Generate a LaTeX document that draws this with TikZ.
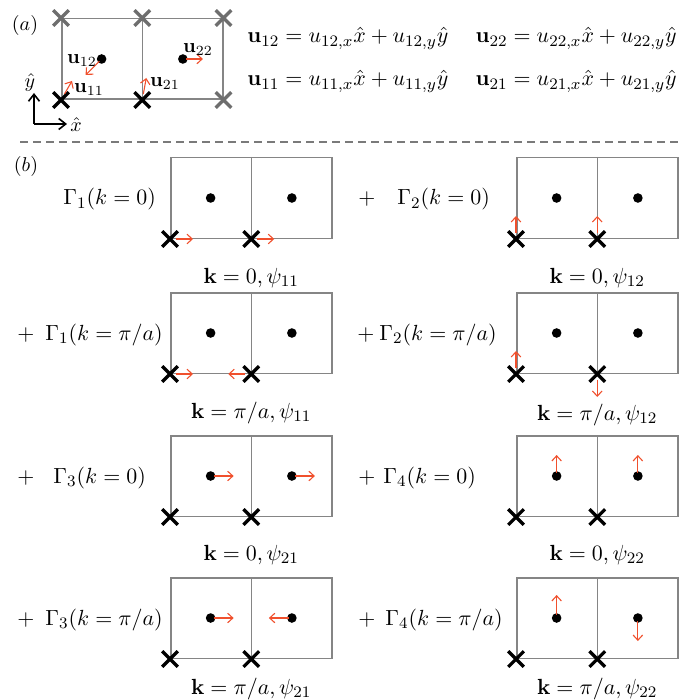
\documentclass[tikz,border=0pt]{standalone}
\usepackage{amsmath}
\usepackage{tikz}
\usetikzlibrary{arrows.meta,calc,positioning,shapes.misc}
\definecolor{boxEdge}{HTML}{858585}
\definecolor{xGray}{HTML}{6E6E6E}
\definecolor{dispCol}{HTML}{F0502D}
\definecolor{sepCol}{HTML}{7A7A7A}
\tikzset{
  cellbox/.style={draw=boxEdge, line width=0.75pt, minimum width=80.5pt, minimum height=40.25pt, inner sep=0pt},
  wall/.style={draw=boxEdge, line width=0.75pt},
  dot/.style={circle, fill=black, inner sep=0pt, minimum size=4.8pt},
  xmark/.style={cross out, draw=black, line width=1.6pt, minimum size=6.2pt, inner sep=0pt},
  xmarkg/.style={xmark, draw=xGray},
  disp/.style={-{Straight Barb[length=2.6pt,width=4.8pt]}, dispCol, line width=0.55pt, shorten <=-1pt},
  axis/.style={-{Straight Barb[length=3.5pt,width=5.5pt]}, line width=0.8pt},
  lbl/.style={inner sep=0pt, font=\fontsize{11}{13}\selectfont},
  eqn/.style={inner sep=0pt, font=\fontsize{10.8}{13}\selectfont},
  tag/.style={inner sep=0pt, font=\normalsize},
}
% two unit cells: #1 prefix, (#2,#3) top-left corner
\newcommand{\cellpair}[3]{%
  \node[cellbox, anchor=north west] (#1B) at (#2,#3) {};
  \draw[wall] (#1B.north) -- (#1B.south);
  \node[dot] (#1d1) at ($(#1B.west)!0.25!(#1B.east)$) {};
  \node[dot] (#1d2) at ($(#1B.west)!0.75!(#1B.east)$) {};
  \node[xmark] (#1x1) at (#1B.south west) {};
  \node[xmark] (#1x2) at (#1B.south) {};
}
% displacement arrow: #1 from node, #2 tip name, (#3,#4) shift
\newcommand{\disp}[4]{%
  \coordinate (#2) at ([shift={(#3,#4)}]#1.center);
  \draw[disp] (#1) -- (#2);
}

\begin{document}
\begin{tikzpicture}[x=0.5pt, y=-0.5pt]
  \useasboundingbox (0,0) rectangle (682,700);
  % (a) unit cell and basis
  \node[tag] (ta) at (25,26) {$(a)$};
  \cellpair{a}{61}{18}
  \node[xmarkg] (ag1) at (aB.north west) {};
  \node[xmarkg] (ag2) at (aB.north) {};
  \node[xmarkg] (ag3) at (aB.north east) {};
  \node[xmarkg] (ag4) at (aB.south east) {};
  \disp{ax1}{u11}{11}{-19}
  \disp{ad1}{u12}{-16}{16}
  \disp{ax2}{u21}{4}{-22}
  \disp{ad2}{u22}{20}{0}
  \node[tag] (lu12) at (82,61) {$\mathbf{u}_{12}$};
  \node[tag] (lu11) at (89,90) {$\mathbf{u}_{11}$};
  \node[tag] (lu21) at (165,84) {$\mathbf{u}_{21}$};
  \node[tag] (lu22) at (198,50) {$\mathbf{u}_{22}$};
  \coordinate (o) at (34,124);
  \coordinate (oy) at (34,93);
  \coordinate (ox) at (67,124);
  \draw[axis] (o) -- (oy);
  \draw[axis] (o) -- (ox);
  \node[tag] (hy) at (30,83) {$\hat{y}$};
  \node[tag] (hx) at (76,125) {$\hat{x}$};
  \node[eqn, anchor=base west] (e12) at (247,43) {$\mathbf{u}_{12}=u_{12,x}\hat{x}+u_{12,y}\hat{y}$};
  \node[eqn, anchor=base east] (e22) at (677,43) {$\mathbf{u}_{22}=u_{22,x}\hat{x}+u_{22,y}\hat{y}$};
  \node[eqn, anchor=base west] (e11) at (247,86) {$\mathbf{u}_{11}=u_{11,x}\hat{x}+u_{11,y}\hat{y}$};
  \node[eqn, anchor=base east] (e21) at (677,86) {$\mathbf{u}_{21}=u_{21,x}\hat{x}+u_{21,y}\hat{y}$};
  % separator
  \coordinate (sepL) at (20,142);
  \coordinate (sepR) at (682,142);
  \draw[sepCol, line width=1pt, dash pattern=on 4pt off 2.5pt] (sepL) -- (sepR);
  % (b) symmetry modes
  \node[tag] (tb) at (26,166) {$(b)$};
  \cellpair{p1}{170}{157}
  \cellpair{p2}{516}{157}
  \cellpair{p3}{170}{292}
  \cellpair{p4}{516}{292}
  \cellpair{p5}{170}{435}
  \cellpair{p6}{516}{435}
  \cellpair{p7}{170}{577}
  \cellpair{p8}{516}{577}
  % Gamma_1, Gamma_2 at k=0
  \disp{p1x1}{t1a}{23}{0}
  \disp{p1x2}{t1b}{23}{0}
  \disp{p2x1}{t2a}{0}{-23}
  \disp{p2x2}{t2b}{0}{-23}
  % Gamma_1, Gamma_2 at k=pi/a
  \disp{p3x1}{t3a}{23}{0}
  \disp{p3x2}{t3b}{-23}{0}
  \disp{p4x1}{t4a}{0}{-23}
  \disp{p4x2}{t4b}{0}{23}
  % Gamma_3, Gamma_4 at k=0
  \disp{p5d1}{t5a}{23}{0}
  \disp{p5d2}{t5b}{23}{0}
  \disp{p6d1}{t6a}{0}{-21}
  \disp{p6d2}{t6b}{0}{-21}
  % Gamma_3, Gamma_4 at k=pi/a
  \disp{p7d1}{t7a}{23}{0}
  \disp{p7d2}{t7b}{-23}{0}
  \disp{p8d1}{t8a}{0}{-23}
  \disp{p8d2}{t8b}{0}{23}
  % mode labels
  \node[lbl, anchor=base west] (g1) at (63,205) {$\Gamma_1(k=0)$};
  \node[lbl, anchor=base west] (s2) at (358,205) {$+$};
  \node[lbl, anchor=base west] (g2) at (397,205) {$\Gamma_2(k=0)$};
  \node[lbl, anchor=base west] (s3) at (17,340) {$+$};
  \node[lbl, anchor=base west] (g3) at (45,340) {$\Gamma_1(k=\pi/a)$};
  \node[lbl, anchor=base west] (s4) at (357,340) {$+$};
  \node[lbl, anchor=base west] (g4) at (379,340) {$\Gamma_2(k=\pi/a)$};
  \node[lbl, anchor=base west] (s5) at (17,483) {$+$};
  \node[lbl, anchor=base west] (g5) at (53,483) {$\Gamma_3(k=0)$};
  \node[lbl, anchor=base west] (s6) at (358,483) {$+$};
  \node[lbl, anchor=base west] (g6) at (383,483) {$\Gamma_4(k=0)$};
  \node[lbl, anchor=base west] (s7) at (17,625) {$+$};
  \node[lbl, anchor=base west] (g7) at (45,625) {$\Gamma_3(k=\pi/a)$};
  \node[lbl, anchor=base west] (s8) at (358,625) {$+$};
  \node[lbl, anchor=base west] (g8) at (385,625) {$\Gamma_4(k=\pi/a)$};
  % wave-vector / basis labels
  \node[lbl, anchor=base] (k1) at ($(p1B.south)+(0,44)$) {$\mathbf{k}=0,\psi_{11}$};
  \node[lbl, anchor=base] (k2) at ($(p2B.south)+(0,44)$) {$\mathbf{k}=0,\psi_{12}$};
  \node[lbl, anchor=base] (k3) at ($(p3B.south)+(0,44)$) {$\mathbf{k}=\pi/a,\psi_{11}$};
  \node[lbl, anchor=base] (k4) at ($(p4B.south)+(0,46)$) {$\mathbf{k}=\pi/a,\psi_{12}$};
  \node[lbl, anchor=base] (k5) at ($(p5B.south)+(0,43)$) {$\mathbf{k}=0,\psi_{21}$};
  \node[lbl, anchor=base] (k6) at ($(p6B.south)+(0,43)$) {$\mathbf{k}=0,\psi_{22}$};
  \node[lbl, anchor=base] (k7) at ($(p7B.south)+(0,35)$) {$\mathbf{k}=\pi/a,\psi_{21}$};
  \node[lbl, anchor=base] (k8) at ($(p8B.south)+(0,35)$) {$\mathbf{k}=\pi/a,\psi_{22}$};
\end{tikzpicture}
\end{document}
